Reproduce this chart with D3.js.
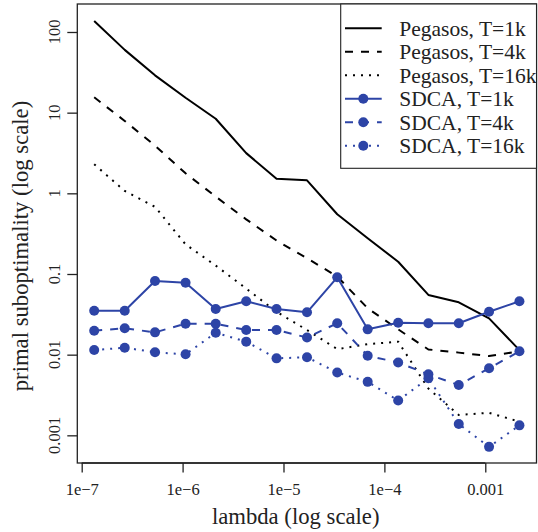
<!DOCTYPE html>
<html>
<head>
<meta charset="utf-8">
<script src="https://cdn.jsdelivr.net/npm/d3@7"></script>
<style>
  body { margin: 0; background: #fff; }
  svg { display: block; font-family: "Liberation Serif", "DejaVu Serif", serif; }
</style>
</head>
<body>
<div id="chart"></div>
<script>
var width = 538,
    height = 532;

// lambda values (x)
var lambdas = [1.33e-7, 2.67e-7, 5.33e-7, 1.07e-6, 2.13e-6, 4.27e-6, 8.53e-6, 1.71e-5,
               3.41e-5, 6.83e-5, 1.37e-4, 2.73e-4, 5.46e-4, 1.09e-3, 2.18e-3];

// primal suboptimality per run
var pegasos1k  = [137, 60, 29, 15.3, 8.4, 3.15, 1.52, 1.45, 0.55, 0.277, 0.142, 0.055, 0.0446, 0.0282, 0.0114];
var pegasos4k  = [15.5, 7.9, 3.9, 1.77, 0.91, 0.476, 0.26, 0.157, 0.093, 0.0376, 0.0206, 0.0116, 0.0106, 0.0096, 0.011];
var pegasos16k = [2.29, 1.07, 0.68, 0.233, 0.127, 0.066, 0.034, 0.0202, 0.0117, 0.0135, 0.0145, 0.0038, 0.00179, 0.0019, 0.00148];
var sdca1k     = [0.035, 0.035, 0.082, 0.078, 0.0368, 0.046, 0.0368, 0.0335, 0.091, 0.0206, 0.0249, 0.0245, 0.0245, 0.034, 0.046];
var sdca4k     = [0.0198, 0.0212, 0.0189, 0.0242, 0.0242, 0.0202, 0.0202, 0.0163, 0.0245, 0.0097, 0.008, 0.0057, 0.0042, 0.0068, 0.011];
var sdca16k    = [0.0114, 0.0122, 0.0107, 0.0101, 0.0187, 0.0145, 0.009, 0.0093, 0.006, 0.0046, 0.0027, 0.0051, 0.00138, 0.00072, 0.00133];

var xTicks = [1e-7, 1e-6, 1e-5, 1e-4, 1e-3];
var xTickLabels = ["1e\u22127", "1e\u22126", "1e\u22125", "1e\u22124", "0.001"];
var yTicks = [1e-3, 1e-2, 1e-1, 1, 10, 100];
var yTickLabels = ["0.001", "0.01", "0.1", "1", "10", "100"];

var blue = "#2d44a6";

var series = [
  { name: "Pegasos, T=1k",  values: pegasos1k,  color: "#000", dash: null,  marker: false },
  { name: "Pegasos, T=4k",  values: pegasos4k,  color: "#000", dash: "8,8", marker: false },
  { name: "Pegasos, T=16k", values: pegasos16k, color: "#000", dash: "2,6", marker: false },
  { name: "SDCA, T=1k",     values: sdca1k,     color: blue,   dash: null,  marker: true },
  { name: "SDCA, T=4k",     values: sdca4k,     color: blue,   dash: "8,8", marker: true },
  { name: "SDCA, T=16k",    values: sdca16k,    color: blue,   dash: "2,6", marker: true }
];

var plot = { left: 77.3, right: 536.5, top: 4, bottom: 463 };

var x = d3.scaleLog()
    .domain([Math.pow(10, -7.0436), Math.pow(10, -2.4924)])
    .range([plot.left, plot.right]);

var y = d3.scaleLog()
    .domain([Math.pow(10, -3.343), Math.pow(10, 2.347)])
    .range([plot.bottom, plot.top]);

var svg = d3.select("#chart").append("svg")
    .attr("width", width)
    .attr("height", height);

// series lines
var line = d3.line()
    .x(function(d, i) { return x(lambdas[i]); })
    .y(function(d) { return y(d); });

series.forEach(function(s) {
  svg.append("path")
    .datum(s.values)
    .attr("d", line)
    .attr("fill", "none")
    .attr("stroke", s.color)
    .attr("stroke-width", 2)
    .attr("stroke-dasharray", s.dash)
    .attr("stroke-linejoin", "round");

  if (s.marker) {
    svg.append("g").selectAll("circle")
      .data(s.values)
      .enter()
      .append("circle")
      .attr("cx", function(d, i) { return x(lambdas[i]); })
      .attr("cy", function(d) { return y(d); })
      .attr("r", 5)
      .attr("fill", s.color);
  }
});

// plot box
svg.append("rect")
  .attr("x", plot.left)
  .attr("y", plot.top)
  .attr("width", plot.right - plot.left)
  .attr("height", plot.bottom - plot.top)
  .attr("fill", "none")
  .attr("stroke", "#222")
  .attr("stroke-width", 1.3);

// x axis
var xAxis = d3.axisBottom(x)
    .tickValues(xTicks)
    .tickFormat(function(d, i) { return xTickLabels[i]; })
    .tickSize(9.5)
    .tickPadding(10.5)
    .tickSizeOuter(0);

var gx = svg.append("g")
  .attr("transform", "translate(0," + plot.bottom + ")")
  .call(xAxis);
gx.select(".domain").attr("d", "M" + x(xTicks[0]) + ",0H" + x(xTicks[xTicks.length - 1]))
  .attr("stroke", "#222").attr("stroke-width", 1.3);
gx.selectAll(".tick line").attr("stroke", "#222").attr("stroke-width", 1.3);
gx.selectAll(".tick text")
  .attr("font-family", "Liberation Serif")
  .attr("font-size", 16.5)
  .attr("fill", "#222");

// y axis, labels rotated like base R
var gy = svg.append("g")
  .attr("transform", "translate(" + plot.left + ",0)")
  .call(d3.axisLeft(y)
    .tickValues(yTicks)
    .tickFormat("")
    .tickSize(10)
    .tickSizeOuter(0));
gy.select(".domain").remove();
gy.selectAll(".tick line").attr("stroke", "#222").attr("stroke-width", 1.3);

svg.append("g").selectAll("text")
  .data(yTicks)
  .enter()
  .append("text")
  .attr("transform", function(d) { return "translate(59.5," + y(d) + ")rotate(-90)"; })
  .attr("text-anchor", "middle")
  .attr("font-size", 16.5)
  .attr("fill", "#222")
  .text(function(d, i) { return yTickLabels[i]; });

// axis titles
svg.append("text")
  .attr("x", 295.7)
  .attr("y", 524)
  .attr("text-anchor", "middle")
  .attr("font-size", 22.7)
  .attr("fill", "#222")
  .text("lambda (log scale)");

svg.append("text")
  .attr("transform", "translate(27.5,246)rotate(-90)")
  .attr("text-anchor", "middle")
  .attr("font-size", 22.7)
  .attr("fill", "#222")
  .text("primal suboptimality (log scale)");

// legend
var legend = svg.append("g");
legend.append("rect")
  .attr("x", 340.7)
  .attr("y", plot.top)
  .attr("width", plot.right - 340.7)
  .attr("height", 164.3)
  .attr("fill", "#fff")
  .attr("stroke", "#222")
  .attr("stroke-width", 1.1);

var rowY = d3.scalePoint()
    .domain(series.map(function(s) { return s.name; }))
    .range([28.3, 145.7]);

series.forEach(function(s) {
  var cy = rowY(s.name);
  legend.append("line")
    .attr("x1", 345).attr("x2", 381.7)
    .attr("y1", cy).attr("y2", cy)
    .attr("stroke", s.color)
    .attr("stroke-width", 2)
    .attr("stroke-dasharray", s.dash);
  if (s.marker) {
    legend.append("circle")
      .attr("cx", 363.3).attr("cy", cy)
      .attr("r", 5)
      .attr("fill", s.color);
  }
  legend.append("text")
    .attr("x", 399.3)
    .attr("y", cy)
    .attr("dy", "0.35em")
    .attr("font-size", 21.5)
    .attr("fill", "#222")
    .text(s.name);
});
</script>
</body>
</html>
